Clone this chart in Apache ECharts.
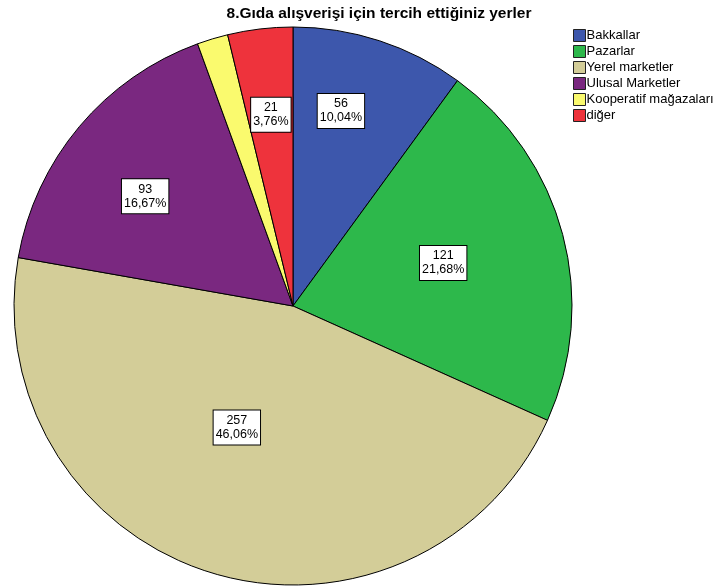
<!DOCTYPE html>
<html><head><meta charset="utf-8">
<script src="https://cdn.jsdelivr.net/npm/echarts@6/dist/echarts.min.js"></script>
<style>html,body{margin:0;padding:0;background:#fff}#c{width:716px;height:588px}</style>
</head><body><div id="c"></div>
<script>
var categories = ['Bakkallar','Pazarlar','Yerel marketler','Ulusal Marketler','Kooperatif mağazaları','diğer'];
var counts = [56, 121, 257, 93, 10, 21];
var showLabel = [true, true, true, true, false, true];
var colors = ['#3D57AC','#2DB84B','#D3CD98','#7A2880','#FAFA6E','#EE333C'];
// label placement: [angle deg from top clockwise, fraction of radius]
var labelPlace = [[13.8,0.72],[74,0.56],[204.8,0.48],[306.6,0.66],[0,0],[353.4,0.69]];

var total = counts.reduce(function(a,b){return a+b;},0);
var cx = 293, cy = 306, R = 279;
var chart = echarts.init(document.getElementById('c'));
var font = 'Liberation Sans, Arial, sans-serif';
chart.setOption({
  animation:false,
  title:{text:'8.Gıda alışverişi için tercih ettiğiniz yerler', left:374, textAlign:'center', top:1,
    textStyle:{fontFamily:font,fontSize:15.5,fontWeight:'bold',color:'#000'}},
  legend:{orient:'vertical', left:568, top:24, itemWidth:12, itemHeight:12, itemGap:3,
    icon:'rect', textStyle:{fontFamily:font,fontSize:13,color:'#000',padding:[0,0,0,-4]},
    itemStyle:{borderColor:'#222',borderWidth:1},
    data:categories},
  series:[{
    type:'pie', center:[cx,cy], radius:[0,R], startAngle:90, clockwise:true,
    itemStyle:{borderColor:'#000',borderWidth:1},
    emphasis:{disabled:true},
    labelLine:{show:false},
    label:{show:true, position:'inside', fontFamily:font, fontSize:12.5, color:'#000', lineHeight:14,
      backgroundColor:'#fff', borderColor:'#000', borderWidth:1, padding:[3,2,3,2],
      formatter:function(p){return p.value+'\n'+(p.value/total*100).toFixed(2).replace('.',',')+'%';}},
    labelLayout:function(p){
      var lp = labelPlace[p.dataIndex];
      var a = lp[0]*Math.PI/180;
      return {x: cx + lp[1]*R*Math.sin(a), y: cy - lp[1]*R*Math.cos(a), align:'center', verticalAlign:'middle'};
    },
    data:categories.map(function(c,i){return {name:c, value:counts[i], itemStyle:{color:colors[i]}, label:{show:showLabel[i]}};})
  }]
});
</script></body></html>
